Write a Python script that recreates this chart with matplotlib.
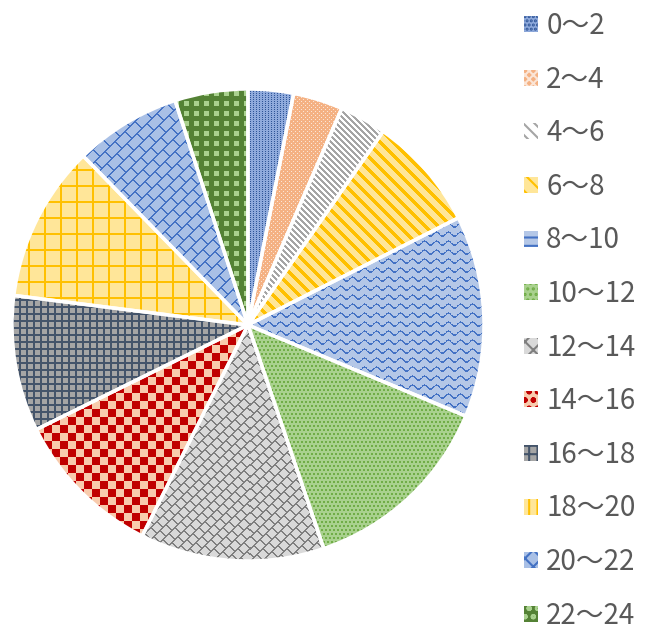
import numpy as np
import matplotlib.pyplot as plt
from matplotlib.patches import Patch
from matplotlib.colors import to_rgb

labels = ['0～2', '2～4', '4～6', '6～8', '8～10', '10～12',
          '12～14', '14～16', '16～18', '18～20', '20～22', '22～24']
values = [3.1, 3.4, 3.2, 7.8, 13.8, 13.5, 12.6, 10.3, 9.3, 10.7, 7.3, 5.0]

bg_colors = ['#8FAADC', '#F4B183', '#FFFFFF', '#FFE699', '#B4C7E7', '#A9D18E',
             '#D9D9D9', '#F8CBAD', '#A5A5A5', '#FFE699', '#A9C0E6', '#548235']
fg_colors = ['#2F5597', '#FBE5D6', '#A5A5A5', '#FFC000', '#4472C4', '#70AD47',
             '#7F7F7F', '#C00000', '#44546A', '#FFC000', '#4472C4', '#A9D18E']
patterns = ['dots', 'fine', 'stripe', 'wide', 'wave', 'dots2',
            'weave', 'checker', 'grid', 'biggrid', 'shingle', 'check2']
legend_hatch = ['....', 'xxxx', '\\\\\\', '\\\\', '--', '...',
                'xx', 'oo', '++', '||', 'xx', 'oo']

plt.rcParams['font.family'] = ['Noto Sans CJK JP', 'DejaVu Sans']

fig = plt.figure(figsize=(6.55, 6.33), dpi=100)
ax = fig.add_axes([12 / 655, 72 / 633, 472 / 655, 472 / 633])

wedges, _ = ax.pie(values, startangle=90, counterclock=False, colors=bg_colors,
                   wedgeprops=dict(linewidth=0))

n = 472
yy, xx = np.mgrid[0:n, 0:n]


def texture(kind, bg, fg):
    if kind == 'dots':
        m = (xx % 3 == 0) & (yy % 2 == 0)
    elif kind == 'fine':
        m = ((xx + yy) % 4 == 0) & (xx % 2 == 0)
    elif kind == 'stripe':
        m = (xx - yy) % 6 < 3
    elif kind == 'wide':
        m = (xx - yy) % 13 < 5
    elif kind == 'wave':
        m = (yy + 2.0 * np.sin(2 * np.pi * xx / 12)) % 9 < 1.6
    elif kind == 'dots2':
        m = ((xx + 2 * ((yy // 4) % 2)) % 4 < 2) & (yy % 4 < 2)
    elif kind == 'weave':
        u, v = xx + yy, xx - yy
        m = (u % 12 < 2) | ((v + 6 * ((u // 12) % 2)) % 12 < 2)
    elif kind == 'checker':
        m = (xx // 8 + yy // 8) % 2 == 0
    elif kind == 'grid':
        m = (xx % 7 < 2) | (yy % 7 < 2)
    elif kind == 'biggrid':
        m = (xx % 16 < 2) | (yy % 16 < 2)
    elif kind == 'shingle':
        u, v = xx + yy, xx - yy
        m = (u % 14 < 2) | ((v + 10 * ((u // 14) % 2)) % 20 < 2)
    else:
        m = (xx % 10 >= 2) & (xx % 10 < 7) & (yy % 10 >= 2) & (yy % 10 < 7)
    return np.where(m[..., None], np.array(to_rgb(fg)), np.array(to_rgb(bg)))


for w, kind, bg, fg in zip(wedges, patterns, bg_colors, fg_colors):
    im = ax.imshow(texture(kind, bg, fg), extent=(-1, 1, -1, 1),
                   interpolation='nearest', zorder=2)
    im.set_clip_path(w)

# white gaps between slices
ax.pie(values, startangle=90, counterclock=False,
       wedgeprops=dict(fill=False, edgecolor='white', linewidth=2.5, zorder=3))
ax.set_xlim(-1, 1)
ax.set_ylim(-1, 1)
ax.set_aspect('equal')
ax.axis('off')

plt.rcParams['hatch.linewidth'] = 1.5
handles = [Patch(facecolor=b, edgecolor=f, hatch=h, linewidth=0)
           for b, f, h in zip(bg_colors, fg_colors, legend_hatch)]
fig.legend(handles, labels, loc='upper left', bbox_to_anchor=(524 / 655, 1 - 11 / 633),
           frameon=False, fontsize=20, labelcolor='#595959',
           handlelength=0.5, handleheight=0.5, handletextpad=0.3,
           labelspacing=0.85, borderpad=0, borderaxespad=0)

fig.savefig('out.png', dpi=100)
